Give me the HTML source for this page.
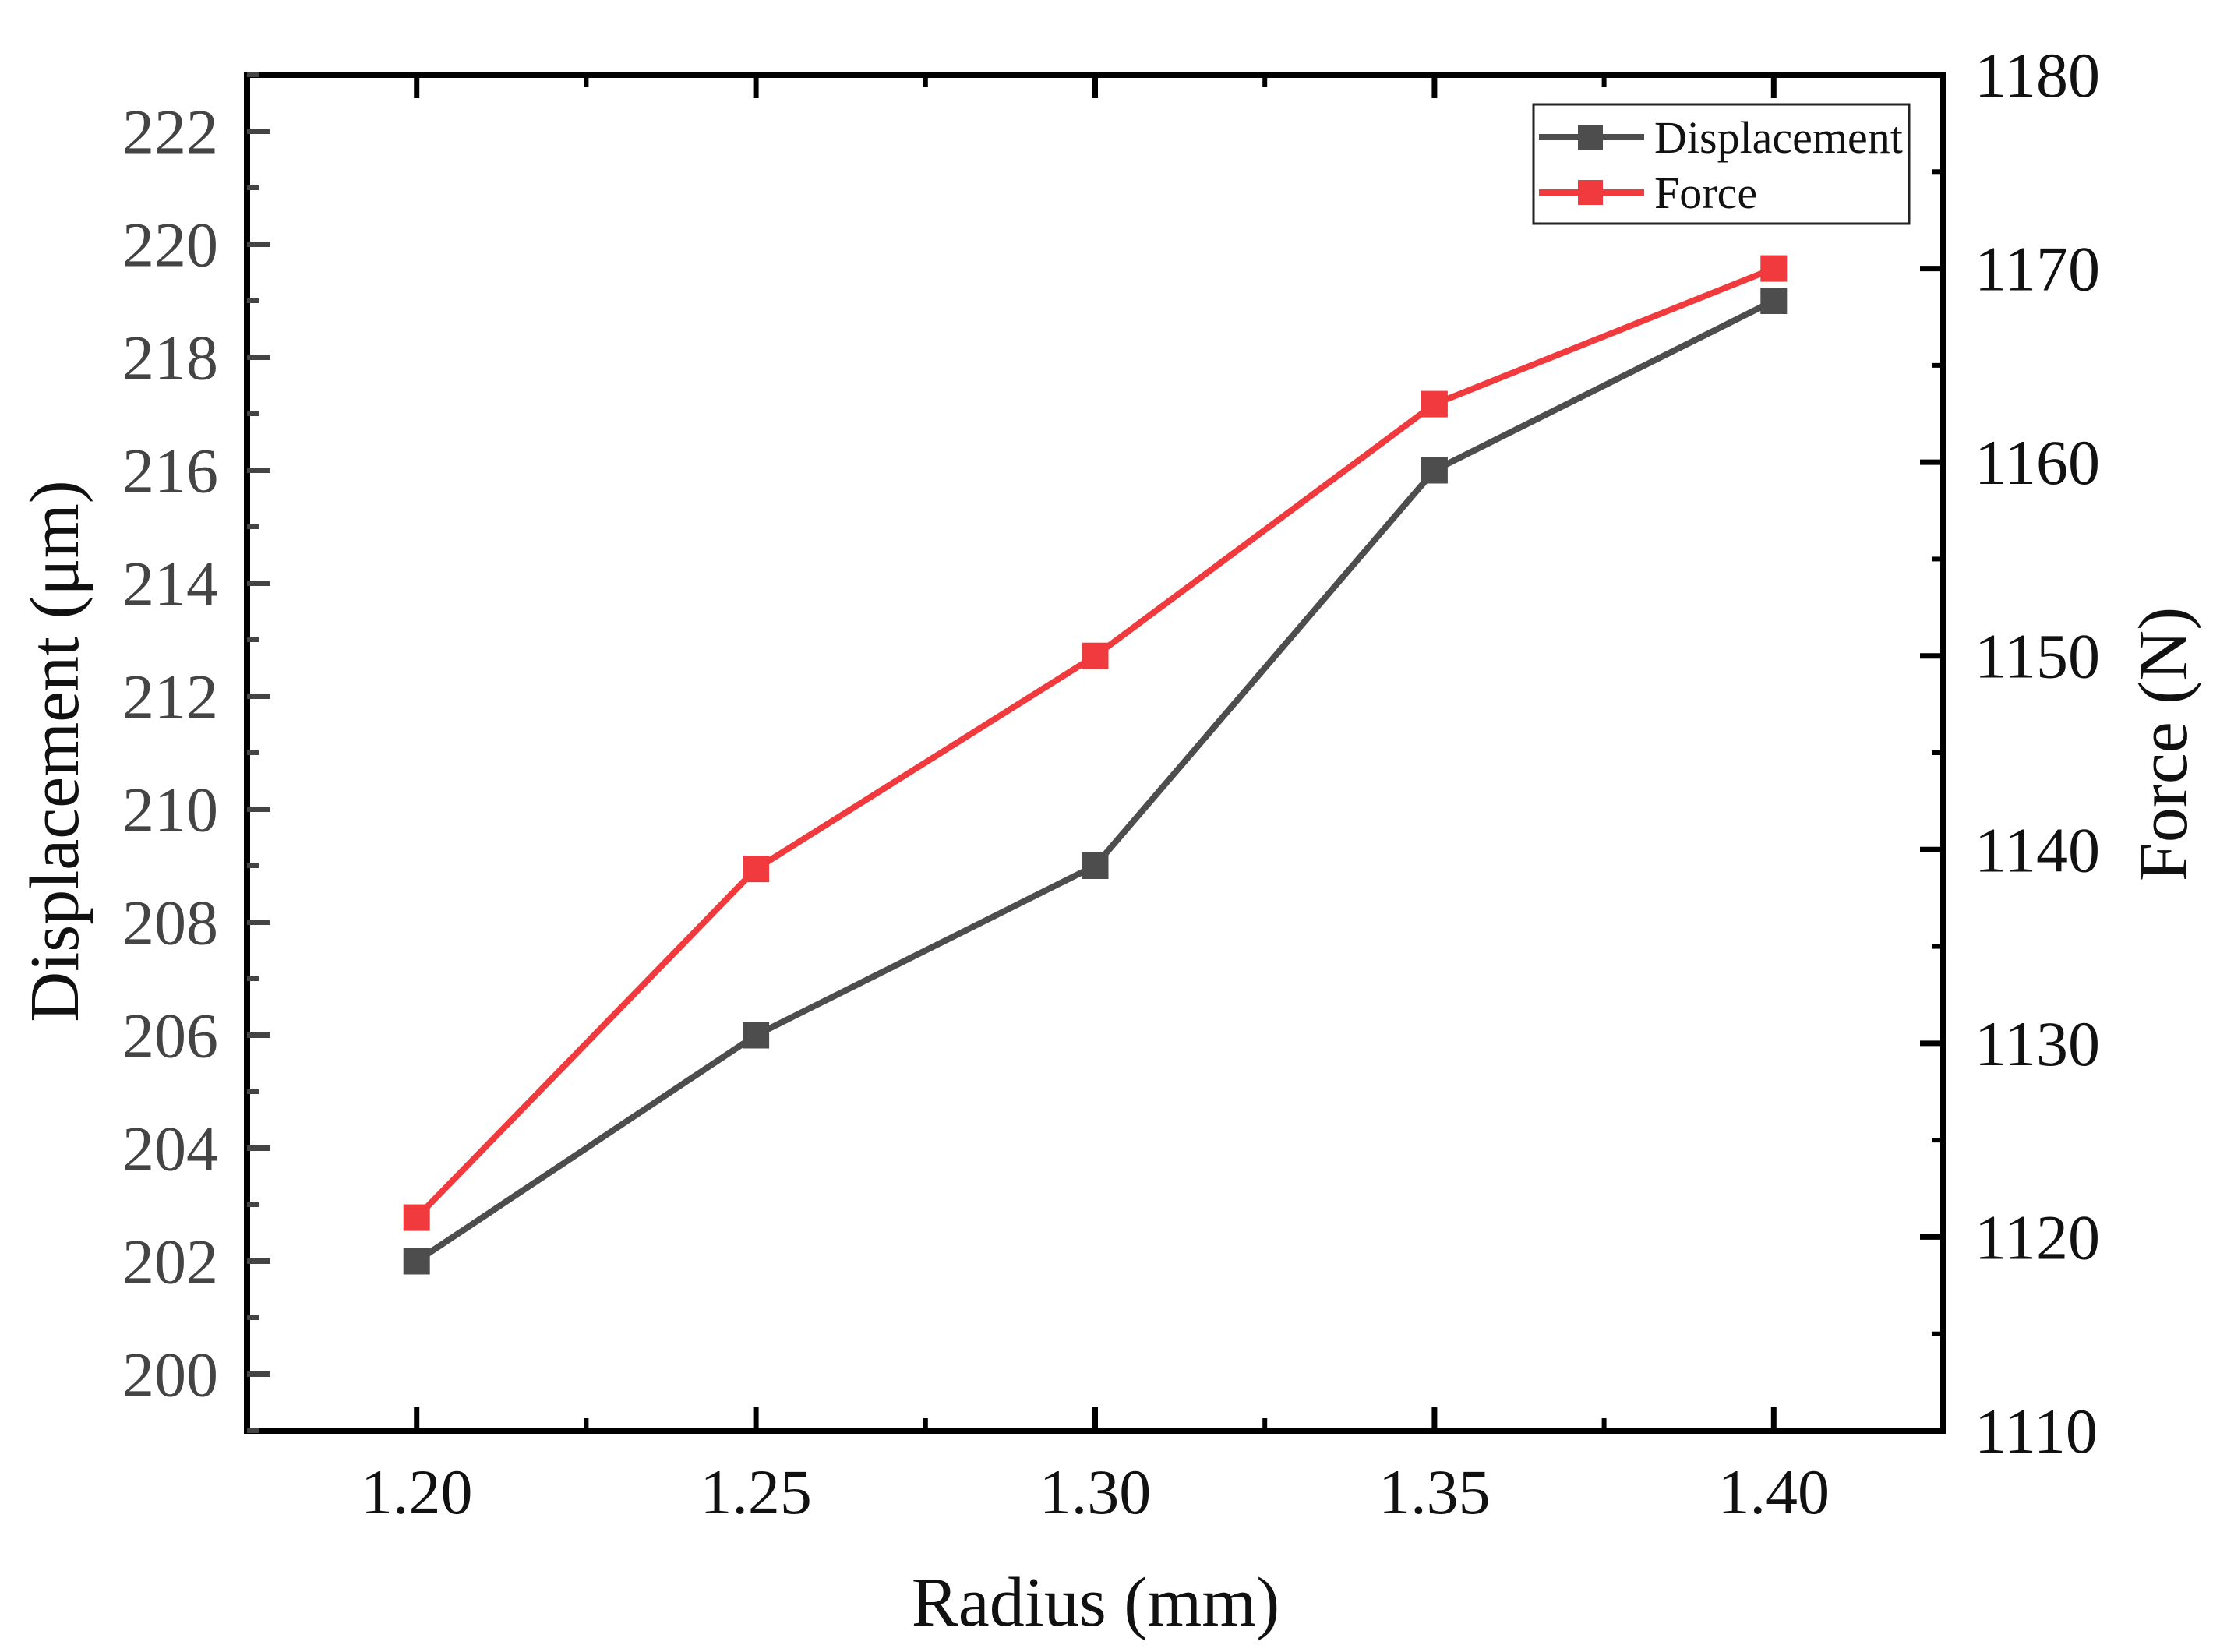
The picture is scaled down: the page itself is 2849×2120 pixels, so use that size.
<!DOCTYPE html>
<html><head><meta charset="utf-8"><style>
html,body{margin:0;padding:0;background:#fff;}
svg{display:block;font-family:"Liberation Serif",serif;}
</style></head><body>
<svg id="chart" width="2849" height="2120" viewBox="0 0 2849 2120" xmlns="http://www.w3.org/2000/svg">
<rect width="2849" height="2120" fill="#fff"/>
<g id="grid"></g>
<g id="series"></g>
<g id="axes"></g>
<text x="1406" y="2086" font-size="90" text-anchor="middle" fill="#111">Radius (mm)</text>
<text transform="translate(100,964) rotate(-90)" font-size="90" text-anchor="middle" fill="#111">Displacement (μm)</text>
<text transform="translate(2806,955) rotate(-90)" font-size="90" text-anchor="middle" fill="#111">Force (N)</text>
<g>
<rect x="1968" y="134" width="482" height="153" fill="#fff" stroke="#222" stroke-width="3"/>
<g>
<line x1="1975" y1="176" x2="2110" y2="176" stroke="#4d4d4d" stroke-width="8"/>
<rect x="2025" y="160" width="32" height="32" fill="#4d4d4d"/>
<text x="2123" y="196" font-size="58" fill="#111">Displacement</text>
</g>
<g>
<line x1="1975" y1="247" x2="2110" y2="247" stroke="#f03a3d" stroke-width="8"/>
<rect x="2025" y="231" width="32" height="32" fill="#f03a3d"/>
<text x="2123" y="267" font-size="58" fill="#111">Force</text>
</g>
</g>
</svg>
<script>
const categories = [1.20, 1.25, 1.30, 1.35, 1.40];
const displacement = [202, 206, 209, 216, 219];
const force = [1121, 1139, 1150, 1163, 1170];
const xTicks = ["1.20", "1.25", "1.30", "1.35", "1.40"];
const leftTicks = ["200", "202", "204", "206", "208", "210", "212", "214", "216", "218", "220", "222"];
const rightTicks = ["1110", "1120", "1130", "1140", "1150", "1160", "1170", "1180"];

const NS = "http://www.w3.org/2000/svg";
const L = 317, R = 2494, T = 96, B = 1836;
const xMin = 1.175, xMax = 1.425, lMin = 199, lMax = 223, rMin = 1110, rMax = 1180;
const xs = v => L + (v - xMin) / (xMax - xMin) * (R - L);
const yl = v => B - (v - lMin) / (lMax - lMin) * (B - T);
const yr = v => B - (v - rMin) / (rMax - rMin) * (B - T);

function mk(tag, attrs, parent) {
  const e = document.createElementNS(NS, tag);
  for (const k in attrs) e.setAttribute(k, attrs[k]);
  parent.appendChild(e);
  return e;
}
const axes = document.getElementById("axes");
const series = document.getElementById("series");

const frame = mk("rect", {x: L, y: T, width: R - L, height: B - T, fill: "none", stroke: "#000", "stroke-width": 8}, axes);



for (let i = 0; i < xTicks.length; i++) {
  const v = parseFloat(xTicks[i]);
  const x = xs(v);
  mk("line", {x1: x, y1: B, x2: x, y2: B - 30, stroke: "#000", "stroke-width": 7}, axes);
  mk("line", {x1: x, y1: T, x2: x, y2: T + 30, stroke: "#000", "stroke-width": 7}, axes);
  const t = mk("text", {x: x, y: 1942, "font-size": 82, "text-anchor": "middle", fill: "#111"}, axes);
  t.textContent = xTicks[i];
  
  
}
for (let v = 1.175; v <= 1.4251; v += 0.05) {
  const x = xs(v);
  if (x <= L + 5 || x >= R - 5) continue;
  mk("line", {x1: x, y1: B, x2: x, y2: B - 16, stroke: "#000", "stroke-width": 6}, axes);
  mk("line", {x1: x, y1: T, x2: x, y2: T + 16, stroke: "#000", "stroke-width": 6}, axes);
}
for (let i = 0; i < leftTicks.length; i++) {
  const v = parseFloat(leftTicks[i]);
  const y = yl(v);
  mk("line", {x1: L, y1: y, x2: L + 30, y2: y, stroke: "#444", "stroke-width": 7}, axes);
  mk("line", {x1: L, y1: yl(v + 1), x2: L + 15, y2: yl(v + 1), stroke: "#444", "stroke-width": 6}, axes);
  const t = mk("text", {x: 280, y: y + 28, "font-size": 82, "text-anchor": "end", fill: "#444"}, axes);
  t.textContent = leftTicks[i];
  
  
}
mk("line", {x1: L, y1: yl(199), x2: L + 15, y2: yl(199), stroke: "#444", "stroke-width": 6}, axes);
for (let i = 0; i < rightTicks.length; i++) {
  const v = parseFloat(rightTicks[i]);
  const y = yr(v);
  mk("line", {x1: R, y1: y, x2: R - 30, y2: y, stroke: "#000", "stroke-width": 7}, axes);
  if (v + 5 < rMax) mk("line", {x1: R, y1: yr(v + 5), x2: R - 15, y2: yr(v + 5), stroke: "#000", "stroke-width": 6}, axes);
  const t = mk("text", {x: 2534, y: y + 28, "font-size": 82, "text-anchor": "start", fill: "#111"}, axes);
  t.textContent = rightTicks[i];
  
  
}

function drawSeries(vals, yf, color, name) {
  const pts = vals.map((v, i) => xs(categories[i]) + "," + yf(v)).join(" ");
  const pl = mk("polyline", {points: pts, fill: "none", stroke: color, "stroke-width": 8, "stroke-linejoin": "round"}, series);
  
  
  vals.forEach((v, i) => {
    const r = mk("rect", {x: xs(categories[i]) - 17, y: yf(v) - 17, width: 34, height: 34, fill: color}, series);
    
    
  });
}
drawSeries(displacement, yl, "#4d4d4d", "displacement");
drawSeries(force, yr, "#f03a3d", "force");
</script>
</body></html>
